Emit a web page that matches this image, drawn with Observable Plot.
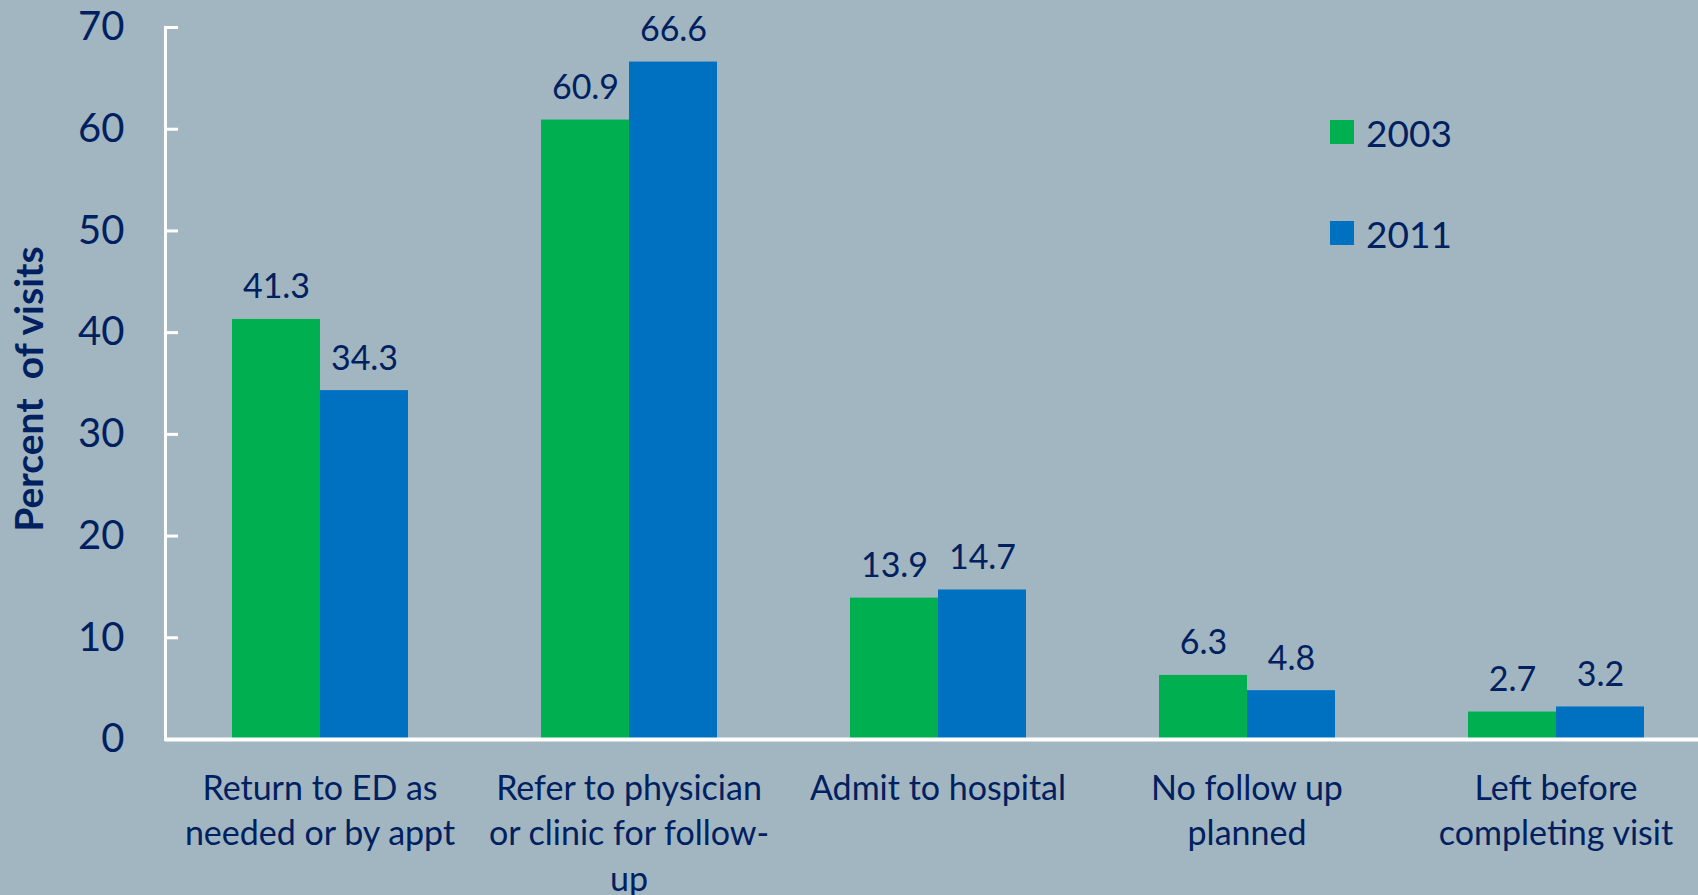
<!DOCTYPE html>
<html><head><meta charset="utf-8">
<script src="https://cdn.jsdelivr.net/npm/d3@7"></script>
<script src="https://cdn.jsdelivr.net/npm/@observablehq/plot@0.6"></script>
<style>
html,body{margin:0;padding:0;background:#a2b6c1;}
#wrap{position:relative;width:1698px;height:895px;overflow:hidden;font-family:Lato,"Open Sans",sans-serif;color:#002060;}
#wrap svg{position:absolute;left:0;top:0;}
.ylab{position:absolute;left:28px;top:389px;transform:translate(-50%,-50%) rotate(-90deg);white-space:pre;font-weight:bold;font-size:39px;}
.legend{position:absolute;left:1330px;font-size:37px;display:flex;align-items:center;}
.legend span.sw{display:inline-block;width:24px;height:24px;margin-right:12px;}
</style></head><body><div id="wrap"></div>
<script>
const categories = ["Return to ED as\nneeded or by appt", "Refer to physician\nor clinic for follow-\nup", "Admit to hospital", "No follow up\nplanned", "Left before\ncompleting visit"];
const years = ["2003", "2011"];
const values2003 = [41.3, 60.9, 13.9, 6.3, 2.7];
const values2011 = [34.3, 66.6, 14.7, 4.8, 3.2];
const colors = ["#00b050", "#0070c0"];
const yTicks = [0, 10, 20, 30, 40, 50, 60, 70];
const yLabel = "Percent  of visits";
const textColor = "#002060";

const data = categories.flatMap((c, i) => [
  {category: c, year: years[0], value: values2003[i]},
  {category: c, year: years[1], value: values2011[i]}
]);

const chart = Plot.plot({
  width: 1698, height: 895,
  marginLeft: 165, marginRight: -12, marginTop: 27, marginBottom: 156,
  style: {background: "transparent", fontFamily: "Lato, 'Open Sans', sans-serif", color: textColor},
  fx: {domain: categories, padding: 0, axis: null},
  x: {domain: years, padding: 0, insetLeft: 66.5, insetRight: 66.5, axis: null},
  y: {domain: [0, 70], axis: null},
  color: {domain: years, range: colors},
  marks: [
    Plot.barY(data, {fx: "category", x: "year", y: "value", fill: "year"}),
    Plot.text(data, {fx: "category", x: "year", y: "value", text: d => d.value.toFixed(1), dy: -32, fontSize: 34, fill: textColor}),
    Plot.axisFx({anchor: "bottom", tickSize: 0, tickPadding: 28, fontSize: 34, lineHeight: 1.34, fill: textColor, label: null}),
    Plot.axisY(yTicks, {anchor: "left", tickSize: -13, tickPadding: 54, fontSize: 40, stroke: "white", strokeWidth: 3, strokeOpacity: 1, fill: textColor, label: null}),
    Plot.frame({anchor: "left", facetAnchor: "left", stroke: "white", strokeWidth: 3}),
    Plot.ruleY([0], {stroke: "white", strokeWidth: 4})
  ]
});

const wrap = document.getElementById("wrap");
wrap.appendChild(chart);
const yl = document.createElement("div");
yl.className = "ylab";
yl.textContent = yLabel;
wrap.appendChild(yl);
const legendTops = [132, 233];
years.forEach((yr, i) => {
  const lg = document.createElement("div");
  lg.className = "legend";
  lg.style.top = (legendTops[i] - 25) + "px";
  lg.style.height = "50px";
  const sw = document.createElement("span");
  sw.className = "sw";
  sw.style.background = colors[i];
  lg.appendChild(sw);
  lg.appendChild(document.createTextNode(yr));
  wrap.appendChild(lg);
});
</script></body></html>
